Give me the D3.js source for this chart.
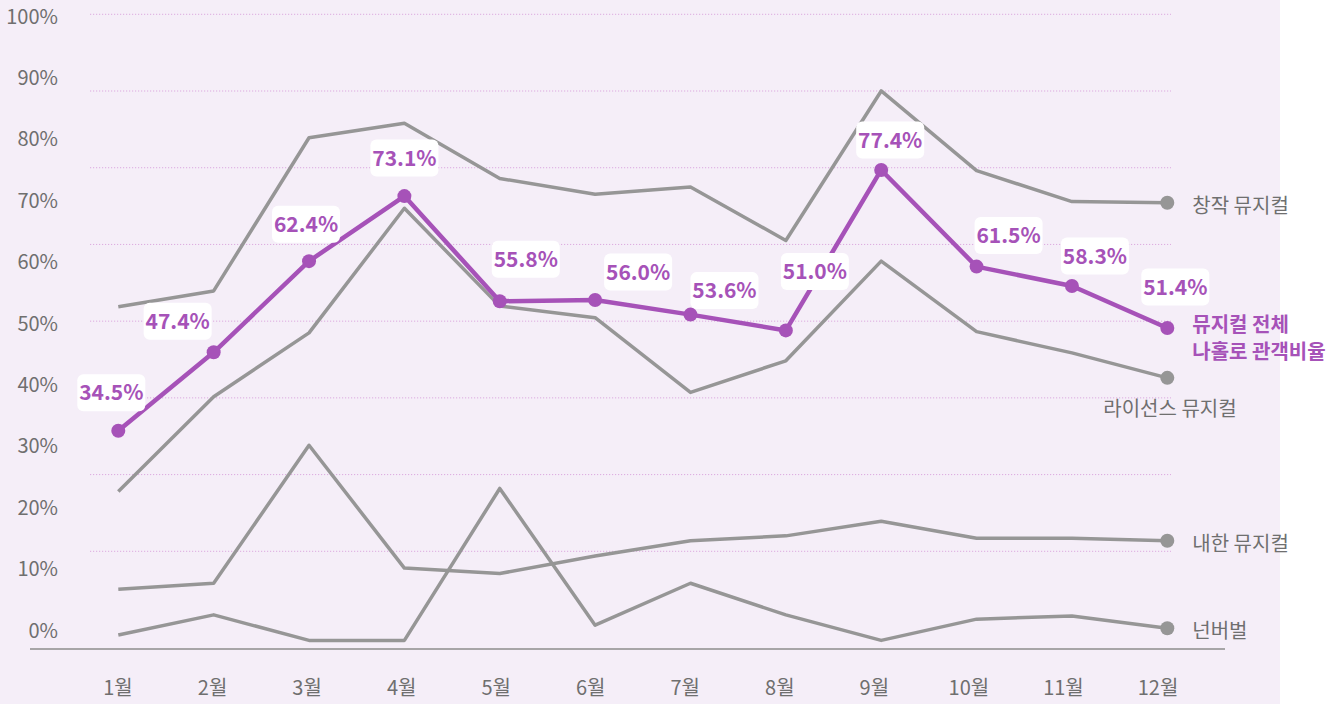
<!DOCTYPE html>
<html>
<head>
<meta charset="utf-8">
<script src="https://cdn.jsdelivr.net/npm/d3@7"></script>
<style>
  html, body { margin: 0; padding: 0; background: #ffffff; }
  svg { display: block; font-family: "Noto Sans CJK KR", "Noto Sans", sans-serif; }
</style>
</head>
<body>
<div class="canvas"></div>
<script>
// data
const months = ['1월', '2월', '3월', '4월', '5월', '6월', '7월', '8월', '9월', '10월', '11월', '12월'];
const yTicks = [0, 10, 20, 30, 40, 50, 60, 70, 80, 90, 100];

const soloTotal = [34.5, 47.4, 62.4, 73.1, 55.8, 56.0, 53.6, 51.0, 77.4, 61.5, 58.3, 51.4];
const original = [54.9, 57.5, 82.7, 85.1, 76.0, 73.4, 74.6, 65.8, 90.4, 77.3, 72.2, 72.0];
const licensed = [24.5, 40.1, 50.6, 71.1, 55.0, 53.1, 40.8, 46.0, 62.4, 50.8, 47.3, 43.2];
const touring = [8.4, 9.4, 32.1, 11.9, 11.0, 13.9, 16.4, 17.2, 19.6, 16.8, 16.8, 16.4];
const nonverbal = [0.9, 4.2, 0, 0, 25.0, 2.5, 9.4, 4.2, 0, 3.5, 4.0, 2.0];

const greySeries = [
  {name: '창작 뮤지컬', values: original},
  {name: '라이선스 뮤지컬', values: licensed, below: true},
  {name: '내한 뮤지컬', values: touring},
  {name: '넌버벌', values: nonverbal}
];

// where each value box sits relative to its point
const labelOffsets = [[-7, -38], [-36, -31], [-3, -37], [0, -38], [26, -42], [43, -28],
                      [34, -24], [29, -59], [9, -30], [32, -31], [23, -30], [8, -41]];

const width = 1342, height = 704;
const purple = '#a652b8', grey = '#969696', textGrey = '#6f6f6f';

const svg = d3.select('.canvas')
    .append('svg')
    .attr('width', width)
    .attr('height', height);

// lavender panel
svg.append('rect')
    .attr('x', 0).attr('y', 0)
    .attr('width', 1280).attr('height', height)
    .attr('fill', '#f5eef8');

// scales
const x = d3.scalePoint().domain(months).range([118.3, 1167.3]);
const xLabel = d3.scalePoint().domain(months).range([117.5, 1157.5]);
const y = d3.scaleLinear().domain([0, 100]).range([640.4, 32.6]);
const yLabel = d3.scaleLinear().domain([0, 100]).range([630.8, 16.7]);
const grid = d3.scaleLinear().domain([0, 7]).range([14.3, 551.3]);

// dotted guide lines
svg.append('g')
  .selectAll('line')
  .data(d3.range(8))
  .join('line')
    .attr('x1', 90).attr('x2', 1171)
    .attr('y1', d => grid(d)).attr('y2', d => grid(d))
    .attr('stroke', '#dcaadf')
    .attr('stroke-width', 1)
    .attr('stroke-dasharray', '1.2,1.8');

// baseline
svg.append('line')
    .attr('x1', 30).attr('x2', 1225)
    .attr('y1', 649).attr('y2', 649)
    .attr('stroke', '#8c8c8c')
    .attr('stroke-width', 1.5);

// axes
const yAxis = d3.axisLeft(yLabel).tickValues(yTicks).tickSize(0).tickPadding(0)
    .tickFormat(d => d + '%');
const yAxisGroup = svg.append('g').attr('transform', 'translate(58,0)').call(yAxis);

const xAxis = d3.axisBottom(xLabel).tickSize(0).tickPadding(0);
const xAxisGroup = svg.append('g').attr('transform', 'translate(0,681)').call(xAxis);

[yAxisGroup, xAxisGroup].forEach(g => {
  g.select('.domain').remove();
  g.selectAll('text')
    .attr('fill', textGrey)
    .style('font-size', '20px')
    .style('font-family', '"Noto Sans CJK KR", sans-serif');
});

const line = d3.line()
    .x((d, i) => x(months[i]))
    .y(d => y(d));

// grey series
greySeries.forEach(s => {
  svg.append('path')
      .datum(s.values)
      .attr('d', line)
      .attr('fill', 'none')
      .attr('stroke', grey)
      .attr('stroke-width', 3.5)
      .attr('stroke-linejoin', 'round');

  const last = s.values[s.values.length - 1];
  svg.append('circle')
      .attr('cx', x(months[11]))
      .attr('cy', y(last))
      .attr('r', 7)
      .attr('fill', grey);

  svg.append('text')
      .attr('x', s.below ? x(months[11]) - 64 : x(months[11]) + 25)
      .attr('y', s.below ? y(last) + 31 : y(last) + 3)
      .attr('dy', '0.35em')
      .attr('fill', textGrey)
      .style('font-size', '20px')
      .text(s.name);
});

// purple series
svg.append('path')
    .datum(soloTotal)
    .attr('d', line)
    .attr('fill', 'none')
    .attr('stroke', purple)
    .attr('stroke-width', 4.5)
    .attr('stroke-linejoin', 'round');

svg.append('g')
  .selectAll('circle')
  .data(soloTotal)
  .join('circle')
    .attr('cx', (d, i) => x(months[i]))
    .attr('cy', d => y(d))
    .attr('r', 7)
    .attr('fill', purple);

// value boxes
const boxes = svg.append('g')
  .selectAll('g')
  .data(soloTotal)
  .join('g')
    .attr('transform', (d, i) =>
      `translate(${x(months[i]) + labelOffsets[i][0]}, ${y(d) + labelOffsets[i][1]})`);

boxes.append('rect')
    .attr('x', -34).attr('y', -18.5)
    .attr('width', 68).attr('height', 37)
    .attr('rx', 6)
    .attr('fill', '#ffffff');

boxes.append('text')
    .attr('text-anchor', 'middle')
    .attr('dy', '0.36em')
    .attr('fill', purple)
    .style('font-size', '21px')
    .style('font-weight', 700)
    .text(d => d.toFixed(1) + '%');

// purple legend, two lines
const legendX = x(months[11]) + 25;
const legendY = y(soloTotal[11]) - 3;
['뮤지컬 전체', '나홀로 관객비율'].forEach((t, i) => {
  svg.append('text')
      .attr('x', legendX)
      .attr('y', legendY + i * 27)
      .attr('dy', '0.35em')
      .attr('fill', purple)
      .style('font-size', '20px')
      .style('font-weight', 700)
      .text(t);
});
</script>
</body>
</html>
